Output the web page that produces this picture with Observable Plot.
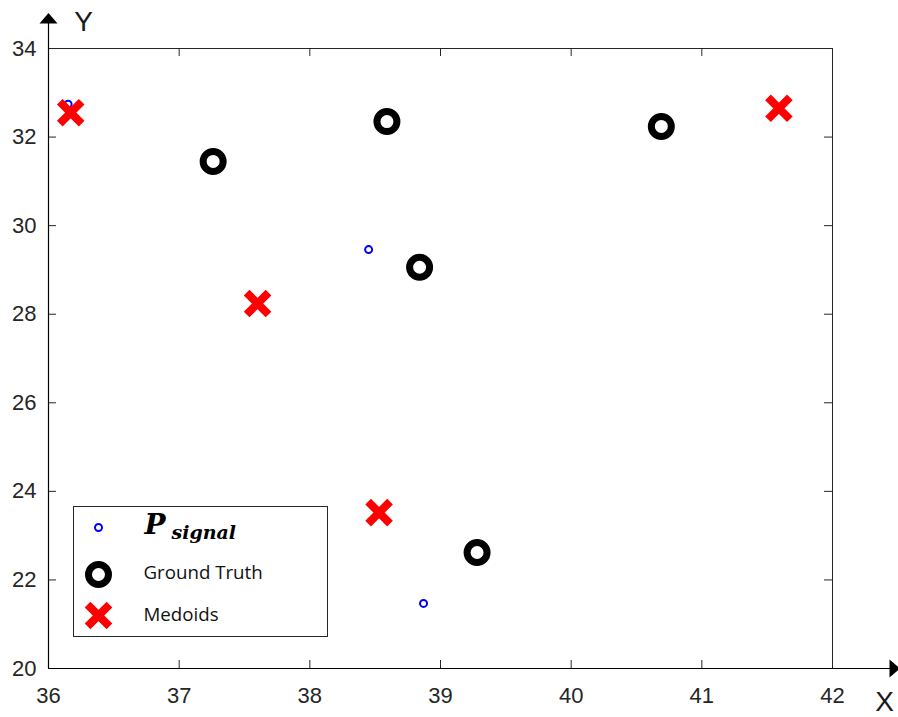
<!DOCTYPE html>
<html><head><meta charset="utf-8">
<script src="https://cdn.jsdelivr.net/npm/d3@7"></script>
<script src="https://cdn.jsdelivr.net/npm/@observablehq/plot@0.6"></script>
<style>body{margin:0;background:#fff;} #chart svg{display:block;}</style>
</head><body><div id="chart"></div>
<script>
// ---- data ----
const signalX = [36.15, 38.45, 38.87];
const signalY = [32.74, 29.46, 21.47];
const truthX = [37.26, 38.59, 40.69, 38.84, 39.28];
const truthY = [31.45, 32.35, 32.24, 29.06, 22.62];
const medoidX = [36.17, 41.59, 37.60, 38.53];
const medoidY = [32.55, 32.65, 28.24, 23.52];
const xTicks = [36, 37, 38, 39, 40, 41, 42];
const yTicks = [20, 22, 24, 26, 28, 30, 32, 34];
const legendLabels = ["P", "signal", "Ground Truth", "Medoids"];
const axisNames = ["X", "Y"];

const signal = signalX.map((x, i) => ({x, y: signalY[i]}));
const truth = truthX.map((x, i) => ({x, y: truthY[i]}));
const medoids = medoidX.map((x, i) => ({x, y: medoidY[i]}));

const W = 898, H = 717, mL = 48, mR = 66, mT = 48, mB = 49;
const pw = W - mL - mR, ph = H - mT - mB;
const tickLen = 8;
const axisColor = "#262626";

const arrowHead = {
  draw(ctx) {
    ctx.moveTo(-9, 0);
    ctx.lineTo(9, 0);
    ctx.lineTo(0, -10.5);
    ctx.closePath();
  }
};

const innerX = xTicks.slice(1, -1);
const innerY = yTicks.slice(1, -1);

const chart = Plot.plot({
  width: W, height: H,
  marginLeft: mL, marginRight: mR, marginTop: mT, marginBottom: mB,
  style: {fontFamily: "'Liberation Sans', Arial, sans-serif", background: "#fff", overflow: "visible"},
  x: {domain: [36, 42]},
  y: {domain: [20, 34]},
  marks: [
    Plot.frame({stroke: axisColor, strokeWidth: 1}),
    // inward ticks on all four sides
    Plot.tickX(innerX, {x: d => d, insetTop: ph - tickLen, stroke: axisColor}),
    Plot.tickX(innerX, {x: d => d, insetBottom: ph - tickLen, stroke: axisColor}),
    Plot.tickY(innerY, {y: d => d, insetRight: pw - tickLen, stroke: axisColor}),
    Plot.tickY(innerY, {y: d => d, insetLeft: pw - tickLen, stroke: axisColor}),
    // tick labels
    Plot.axisX({ticks: xTicks, tickFormat: d => String(d), tickSize: 0, tickPadding: 19, fontSize: 22, color: axisColor, label: null}),
    Plot.axisY({ticks: yTicks, tickFormat: d => String(d), tickSize: 0, tickPadding: 12, fontSize: 22, color: axisColor, label: null}),
    // axis arrows
    Plot.ruleX([36], {x: d => d, insetTop: -26, stroke: "black", strokeWidth: 1.2}),
    Plot.ruleY([20], {y: d => d, insetRight: -58, stroke: "black", strokeWidth: 1.2}),
    Plot.dot([36], {x: d => d, frameAnchor: "top", dy: -25, symbol: arrowHead, r: 5, fill: "black", stroke: null}),
    Plot.dot([20], {y: d => d, frameAnchor: "right", dx: 57, rotate: 90, symbol: arrowHead, r: 5, fill: "black", stroke: null}),
    Plot.text([axisNames[1]], {frameAnchor: "top-left", dx: 35, dy: -18, lineAnchor: "bottom", textAnchor: "middle", fontSize: 28, fill: "#1a1a1a", text: d => d}),
    Plot.text([axisNames[0]], {frameAnchor: "bottom-right", dx: 52, dy: 42, lineAnchor: "bottom", textAnchor: "middle", fontSize: 28, fill: "#1a1a1a", text: d => d}),
    // data
    Plot.dot(signal, {x: "x", y: "y", r: 3.5, stroke: "blue", strokeWidth: 2, fill: "white"}),
    Plot.dot(truth, {x: "x", y: "y", r: 10, stroke: "black", strokeWidth: 7, fill: "none"}),
    Plot.dot(medoids, {x: "x", y: "y", symbol: "times", r: 10, stroke: "red", strokeWidth: 8}),
    // legend
    Plot.frame({insetLeft: 25, insetRight: 505, insetTop: 458, insetBottom: 32, fill: "white", stroke: axisColor}),
    Plot.dot([0], {frameAnchor: "bottom-left", dx: 50, dy: -141, r: 3.5, stroke: "blue", strokeWidth: 2, fill: "white"}),
    Plot.dot([0], {frameAnchor: "bottom-left", dx: 50, dy: -94, r: 10, stroke: "black", strokeWidth: 7, fill: "none"}),
    Plot.dot([0], {frameAnchor: "bottom-left", dx: 50, dy: -53, symbol: "times", r: 10, stroke: "red", strokeWidth: 8}),
    Plot.text([legendLabels[0]], {frameAnchor: "bottom-left", dx: 96, dy: -135, lineAnchor: "bottom", textAnchor: "start", fontSize: 28, fontWeight: "bold", fontStyle: "italic", fontFamily: "'DejaVu Serif', serif", fill: "black", text: d => d}),
    Plot.text([legendLabels[1]], {frameAnchor: "bottom-left", dx: 123, dy: -130, lineAnchor: "bottom", textAnchor: "start", fontSize: 19, fontWeight: "bold", fontStyle: "italic", fontFamily: "'DejaVu Serif', serif", fill: "black", text: d => d}),
    Plot.text([legendLabels[2]], {frameAnchor: "bottom-left", dx: 95, dy: -95, lineAnchor: "middle", textAnchor: "start", fontSize: 18.7, fontFamily: "'Open Sans', sans-serif", fill: "#111", text: d => d}),
    Plot.text([legendLabels[3]], {frameAnchor: "bottom-left", dx: 95, dy: -53, lineAnchor: "middle", textAnchor: "start", fontSize: 18.7, fontFamily: "'Open Sans', sans-serif", fill: "#111", text: d => d})
  ]
});
document.getElementById("chart").appendChild(chart);
</script>
</body></html>
